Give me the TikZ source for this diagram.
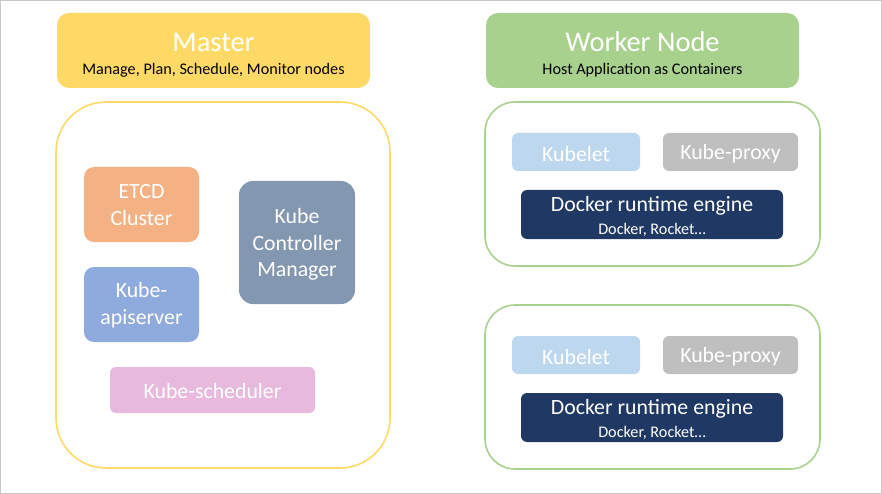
\documentclass[tikz,border=0pt]{standalone}
\usepackage{fontspec}
\setmainfont{Carlito}
\definecolor{mhead}{HTML}{FFD966}
\definecolor{whead}{HTML}{A9D18E}
\definecolor{etcd}{HTML}{F4B183}
\definecolor{api}{HTML}{8FAADC}
\definecolor{ctrl}{HTML}{8497B0}
\definecolor{sched}{HTML}{E7B9DD}
\definecolor{klet}{HTML}{BDD7EE}
\definecolor{kprox}{HTML}{BFBFBF}
\definecolor{dock}{HTML}{203864}
\definecolor{frame}{HTML}{C8C8C8}
\begin{document}
\begin{tikzpicture}[x=1pt,y=-1pt,
  box/.style={inner sep=0pt,align=center,text=white,font=\fontsize{21.8}{26.5}\selectfont},
  sub/.style={inner sep=0pt,font=\fontsize{16.2}{19}\selectfont},
  title/.style={inner sep=0pt,text=white,font=\fontsize{28.5}{32}\selectfont},
]
\useasboundingbox (0,0) rectangle (882,494);
\draw[frame,line width=1pt] (0.5,0.5) rectangle (881.5,493.5);
% headers
\fill[mhead,rounded corners=12pt] (57,13) rectangle (370,88);
\node[title] (mt) at (213.5,42) {Master};
\node[sub] (ms) at (213.5,70) {Manage, Plan, Schedule, Monitor nodes};
\fill[whead,rounded corners=12pt] (486,13) rectangle (799,88);
\node[title] (wt) at (642.5,42) {Worker Node};
\node[sub] (ws) at (642.5,70) {Host Application as Containers};
% master container
\draw[mhead,line width=1.6pt,rounded corners=50pt] (56,102) rectangle (390,468);
\fill[etcd,rounded corners=10pt] (84,167) rectangle (199,242);
\node[box] (etcd) at (141.5,205) {ETCD\\Cluster};
\fill[api,rounded corners=10pt] (84,267) rectangle (199,342);
\node[box] (api) at (141.5,305) {Kube-\\apiserver};
\fill[ctrl,rounded corners=14pt] (239,181) rectangle (355,304);
\node[box] (ctrl) at (297,244.5) {Kube\\Controller\\Manager};
\fill[sched,rounded corners=6pt] (110,367) rectangle (315,413);
\node[box] (sched) at (212.5,391) {Kube-scheduler};
% worker containers
\foreach \dy/\n in {0/a,203/b}{
  \begin{scope}[yshift=-\dy pt]
  \draw[whead,line width=1.6pt,rounded corners=30pt] (485,102) rectangle (820,266);
  \fill[klet,rounded corners=6pt] (512,133) rectangle (640,171);
  \node[box] (klet\n) at (576,154) {Kubelet};
  \fill[kprox,rounded corners=6pt] (663,133) rectangle (798,171);
  \node[box] (kprox\n) at (730.5,154) {Kube-proxy};
  \fill[dock,rounded corners=6pt] (521,190) rectangle (783,239);
  \node[box] (dock\n) at (652,206) {Docker runtime engine};
  \node[sub,text=white] (dsub\n) at (652,229.5) {Docker, Rocket…};
  \end{scope}
}
\end{tikzpicture}
\end{document}
